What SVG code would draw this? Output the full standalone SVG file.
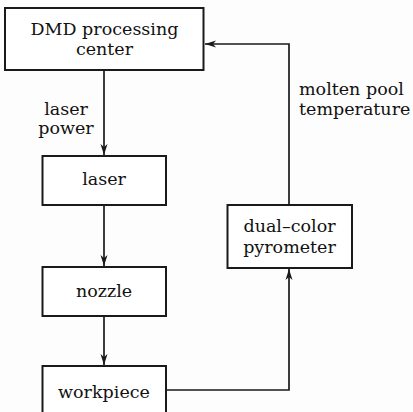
<svg xmlns="http://www.w3.org/2000/svg" width="413" height="412" viewBox="0 0 413 412">
<style>
.box{fill:#fff;stroke:#1a1a1a;stroke-width:2}
.ln{fill:none;stroke:#1a1a1a;stroke-width:1.7}
text{font-family:"DejaVu Serif","Liberation Serif",serif;font-size:17.5px;fill:#111}
.c{text-anchor:middle}
</style>
<defs>
<marker id="ah" markerUnits="userSpaceOnUse" markerWidth="12" markerHeight="8" refX="11" refY="4" orient="auto">
<path d="M0,0.5 L11,4 L0,7.5 L3,4 Z" fill="#1a1a1a"/>
</marker>
</defs>
<rect width="413" height="412" fill="#fdfdfd"/>
<g id="connectors">
<line class="ln" x1="104" y1="70" x2="104" y2="155" marker-end="url(#ah)"/>
<line class="ln" x1="104" y1="205" x2="104" y2="266" marker-end="url(#ah)"/>
<line class="ln" x1="104" y1="316" x2="104" y2="365" marker-end="url(#ah)"/>
<polyline class="ln" points="166,390 289,390 289,269" marker-end="url(#ah)"/>
<polyline class="ln" points="289,205 289,44 205,44" marker-end="url(#ah)"/>
<text class="c" x="66" y="115">laser</text>
<text class="c" x="66" y="134">power</text>
<text x="299" y="95">molten pool</text>
<text x="299" y="115">temperature</text>
</g>
<g id="dmd">
<rect class="box" x="5" y="8" width="198.5" height="62"/>
<text class="c" x="104.5" y="35">DMD processing</text>
<text class="c" x="104.5" y="55">center</text>
</g>
<g id="laser">
<rect class="box" x="42.5" y="156" width="123.5" height="49"/>
<text class="c" x="104" y="185">laser</text>
</g>
<g id="nozzle">
<rect class="box" x="42.5" y="267" width="123.5" height="49"/>
<text class="c" x="104" y="297">nozzle</text>
</g>
<g id="workpiece">
<rect class="box" x="42.5" y="366" width="123.5" height="50"/>
<text class="c" x="104" y="398">workpiece</text>
</g>
<g id="pyrometer">
<rect class="box" x="227.5" y="205" width="124.5" height="63"/>
<text class="c" x="289.5" y="232">dual–color</text>
<text class="c" x="289.5" y="253">pyrometer</text>
</g>
</svg>
